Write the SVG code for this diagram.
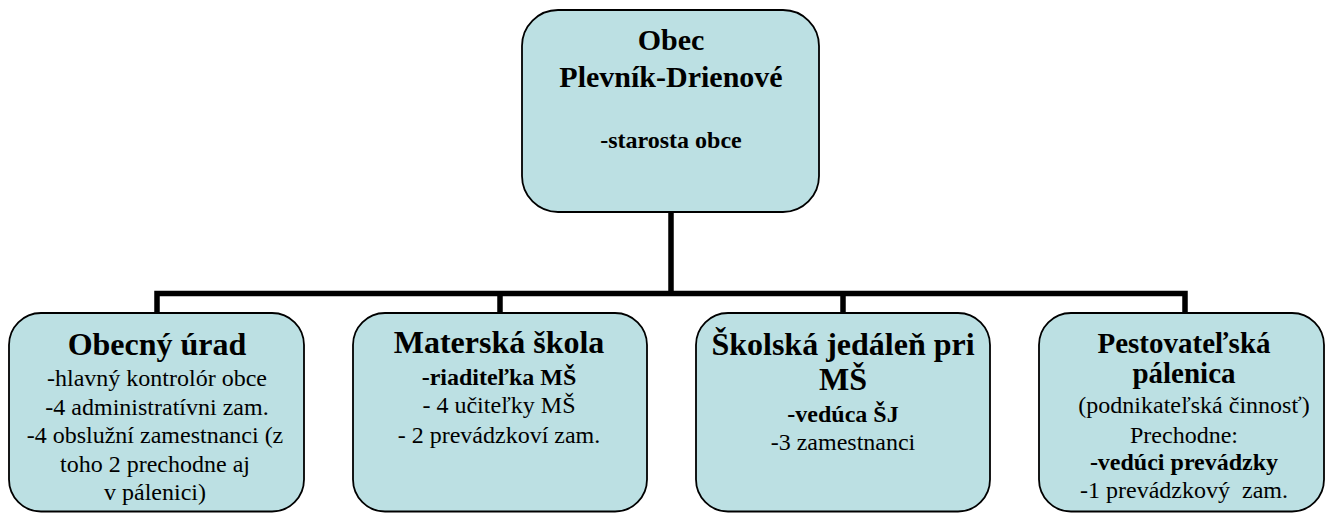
<svg xmlns="http://www.w3.org/2000/svg" width="1327" height="513" viewBox="0 0 1327 513">
<style>
.box{fill:#bce0e3;stroke:#000;stroke-width:1.8}
.t{font-family:"Liberation Serif","Times New Roman",serif;text-anchor:middle;fill:#000}
.b{font-weight:bold}
.h{font-size:32px;font-weight:bold}
.s{font-size:24px}
.conn{fill:none;stroke:#000;stroke-width:5.5;stroke-linejoin:miter}
</style>
<rect width="1327" height="513" fill="#fff"/>
<g id="connectors">
<path class="conn" d="M671 212 V293.5 M157 313 V293.5 H1185 V313 M500 293.5 V313 M843 293.5 V313"/>
</g>
<g id="node-obec">
<rect class="box" x="522" y="10" width="297" height="202" rx="36" ry="36"/>
<text class="t b" x="671" y="50" font-size="30">Obec</text>
<text class="t b" x="671" y="87" font-size="30">Plevník-Drienové</text>
<text class="t b" x="671" y="148" font-size="24">-starosta obce</text>
</g>
<g id="node-urad">
<rect class="box" x="9" y="313" width="295" height="198.5" rx="32" ry="32"/>
<text class="t h" x="157" y="355">Obecný úrad</text>
<text class="t s" x="157" y="386">-hlavný kontrolór obce</text>
<text class="t s" x="157" y="415">-4 administratívni zam.</text>
<text class="t s" x="155" y="443">-4 obslužní zamestnanci (z</text>
<text class="t s" x="155" y="472">toho 2 prechodne aj</text>
<text class="t s" x="155" y="500">v pálenici)</text>
</g>
<g id="node-ms">
<rect class="box" x="353" y="313" width="294" height="198.5" rx="32" ry="32"/>
<text class="t h" x="499" y="353">Materská škola</text>
<text class="t b s" x="499" y="385">-riaditeľka MŠ</text>
<text class="t s" x="499" y="413">- 4 učiteľky MŠ</text>
<text class="t s" x="499" y="443">- 2 prevádzkoví zam.</text>
</g>
<g id="node-sj">
<rect class="box" x="696" y="313" width="294" height="198.5" rx="32" ry="32"/>
<text class="t h" x="843" y="355">Školská jedáleň pri</text>
<text class="t h" x="843" y="390">MŠ</text>
<text class="t b s" x="843" y="422">-vedúca ŠJ</text>
<text class="t s" x="843" y="450">-3 zamestnanci</text>
</g>
<g id="node-palenica">
<rect class="box" x="1039" y="313" width="285" height="198.5" rx="32" ry="32"/>
<text class="t b" x="1184" y="353" font-size="29">Pestovateľská</text>
<text class="t b" x="1184" y="383" font-size="29">pálenica</text>
<text class="t s" x="1194" y="413">(podnikateľská činnosť)</text>
<text class="t s" x="1184" y="443">Prechodne:</text>
<text class="t b s" x="1184" y="470">-vedúci prevádzky</text>
<text class="t s" x="1184" y="498" xml:space="preserve">-1 prevádzkový  zam.</text>
</g>
</svg>
